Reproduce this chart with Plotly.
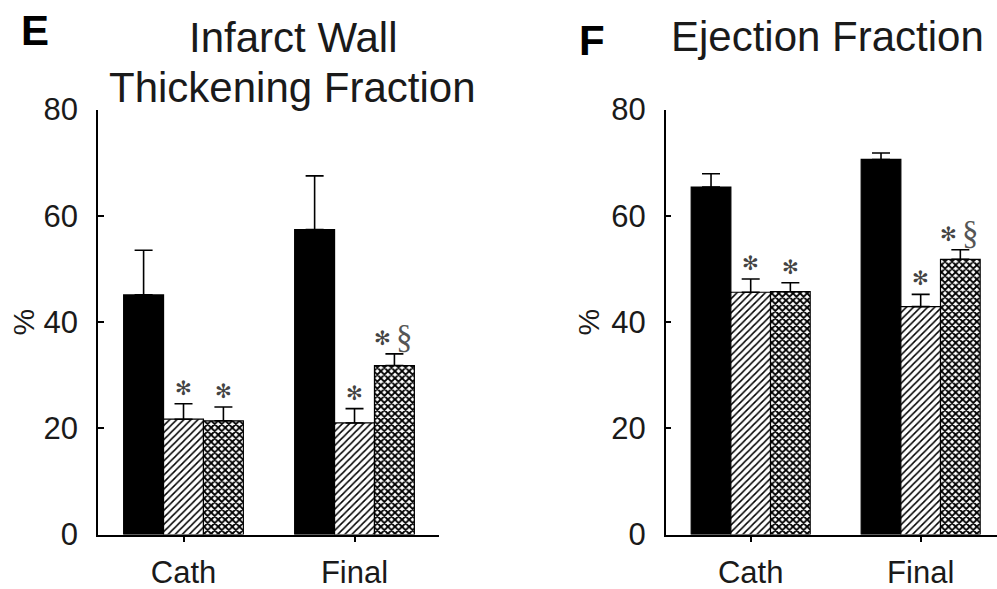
import plotly.graph_objects as go

# ---------------- data ----------------
categories = ["Cath", "Final"]
groups = ["Control", "Group B", "Group C"]

iwtf_mean = {
    "Control": [45.1, 57.4],
    "Group B": [21.7, 21.0],
    "Group C": [21.4, 31.8],
}
iwtf_err = {
    "Control": [8.4, 10.1],
    "Group B": [2.9, 2.7],
    "Group C": [2.6, 2.2],
}
ef_mean = {
    "Control": [65.4, 70.6],
    "Group B": [45.6, 42.9],
    "Group C": [45.7, 51.8],
}
ef_err = {
    "Control": [2.5, 1.2],
    "Group B": [2.5, 2.3],
    "Group C": [1.7, 1.8],
}
# significance marks per group per category
iwtf_sig = {"Control": ["", ""], "Group B": ["*", "*"], "Group C": ["*", "*§"]}
ef_sig = {"Control": ["", ""], "Group B": ["*", "*"], "Group C": ["*", "*§"]}

y_ticks = [0, 20, 40, 60, 80]

# ---------------- styles ----------------
SANS = "Liberation Sans, Arial, sans-serif"
SERIF = "Liberation Serif, Times New Roman, serif"
W, H = 997, 589
BARGAP = 0.3

styles = {
    "Control": dict(color="black", pattern=dict(shape="")),
    "Group B": dict(color="white", pattern=dict(shape="/", fgcolor="black", bgcolor="white",
                                                 size=5, solidity=0.3, fillmode="replace")),
    "Group C": dict(color="white", pattern=dict(shape="x", fgcolor="black", bgcolor="white",
                                                 size=5, solidity=0.6, fillmode="replace")),
}

fig = go.Figure()

panels = [
    ("x", "y", iwtf_mean, iwtf_err, iwtf_sig),
    ("x2", "y2", ef_mean, ef_err, ef_sig),
]

n = len(groups)
bw = (1 - BARGAP) / n
offsets = [(-(n - 1) / 2 + i) * bw for i in range(n)]

for xa, ya, means, errs, sigs in panels:
    for gi, g in enumerate(groups):
        st = styles[g]
        fig.add_trace(go.Bar(
            x=list(range(len(categories))), y=means[g], name=g, xaxis=xa, yaxis=ya,
            marker=dict(color=st["color"], line=dict(color="black", width=1.2),
                        pattern=st["pattern"]),
            error_y=dict(type="data", symmetric=False, array=errs[g],
                         arrayminus=[0] * len(errs[g]), color="black",
                         thickness=1.6, width=9),
            showlegend=False,
        ))
        for ci in range(len(categories)):
            s = sigs[g][ci]
            if not s:
                continue
            top = means[g][ci] + errs[g][ci]
            xc = ci + offsets[gi]
            if s == "*":
                parts = [("*", 0)]
            else:
                parts = [("*", -12), ("§", 10)]
            for txt, dx in parts:
                if txt == "*":
                    fig.add_annotation(x=xc, y=top, xref=xa, yref=ya, text="✻",
                                       showarrow=False, xshift=dx, yshift=16,
                                       yanchor="middle",
                                       font=dict(family="DejaVu Sans", size=20, color="#444"))
                else:
                    fig.add_annotation(x=xc, y=top, xref=xa, yref=ya, text="§",
                                       showarrow=False, xshift=dx, yshift=17,
                                       yanchor="middle",
                                       font=dict(family=SERIF, size=33, color="#555"))

ydom = [1 - 534.5 / H, 1 - 109.5 / H]
axis_common = dict(showline=True, linecolor="black", linewidth=1.5, showgrid=False,
                   zeroline=False, automargin=False,
                   tickfont=dict(family=SANS, size=31, color="#1a1a1a"))

fig.update_layout(
    width=W, height=H, margin=dict(l=0, r=0, t=0, b=0, autoexpand=False),
    paper_bgcolor="white", plot_bgcolor="white",
    barmode="group", bargap=BARGAP, bargroupgap=0,
    xaxis=dict(domain=[98 / W, 439 / W], range=[-0.5, 1.494], tickvals=[0, 1],
               ticktext=categories, ticks="outside", ticklen=6, tickwidth=1.5,
               tickcolor="black", anchor="y", ticklabelstandoff=4, **axis_common),
    yaxis=dict(domain=ydom, range=[0, 80], tickvals=y_ticks, ticks="inside", ticklen=6,
               tickwidth=1.5, tickcolor="black", anchor="x", ticklabelstandoff=12,
               **axis_common),
    xaxis2=dict(domain=[665.7 / W, 1.0], range=[-0.5, 1.449], tickvals=[0, 1],
                ticktext=categories, ticks="outside", ticklen=6, tickwidth=1.5,
                tickcolor="black", anchor="y2", ticklabelstandoff=4, **axis_common),
    yaxis2=dict(domain=ydom, range=[0, 80], tickvals=y_ticks, ticks="inside", ticklen=6,
                tickwidth=1.5, tickcolor="black", anchor="x2", ticklabelstandoff=12,
                **axis_common),
)

# panel letters and titles
text_items = [
    ("E", 35 / W, 1 - 30.5 / H, dict(family=SANS, size=42, color="black"), True),
    ("F", 591.7 / W, 1 - 41 / H, dict(family=SANS, size=42, color="black"), True),
    ("Infarct Wall", 293 / W, 1 - 37.5 / H, dict(family=SANS, size=42, color="#1a1a1a"), False),
    ("Thickening Fraction", 292 / W, 1 - 88 / H, dict(family=SANS, size=42, color="#1a1a1a"), False),
    ("Ejection Fraction", 827.5 / W, 1 - 36 / H, dict(family=SANS, size=42, color="#1a1a1a"), False),
]
for txt, xp, yp, f, bold in text_items:
    fig.add_annotation(x=xp, y=yp, xref="paper", yref="paper", showarrow=False,
                       text=f"<b>{txt}</b>" if bold else txt, font=f,
                       xanchor="center", yanchor="middle")

for xp in [22.5, 587.5]:
    fig.add_annotation(x=xp / W, y=1 - 322 / H, xref="paper", yref="paper", showarrow=False,
                       text="%", textangle=-90, xanchor="center", yanchor="middle",
                       font=dict(family=SANS, size=30, color="#1a1a1a"))

fig.write_html("out.html")
